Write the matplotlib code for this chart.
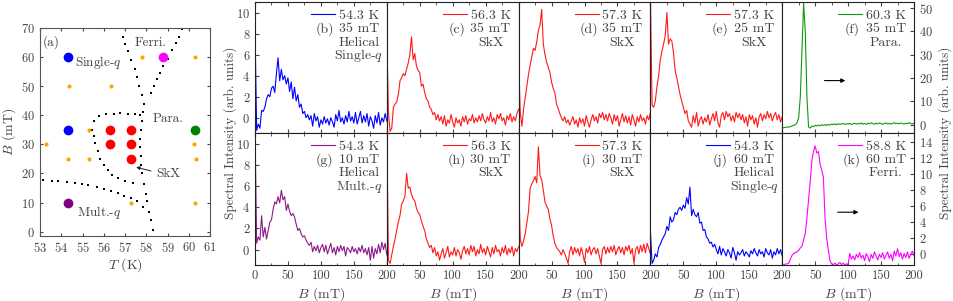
import numpy as np
import matplotlib
matplotlib.use("Agg")
import matplotlib.pyplot as plt
from matplotlib.ticker import MultipleLocator, FixedLocator, FixedFormatter

plt.rcParams['font.family'] = 'serif'
plt.rcParams['font.serif'] = ['cmr10', 'DejaVu Serif']
plt.rcParams['mathtext.fontset'] = 'cm'
plt.rcParams['axes.formatter.use_mathtext'] = True
plt.rcParams['axes.unicode_minus'] = False

TXT = '#444444'

# ---------------- phase diagram (a) ----------------
helical_T, helical_B = [54.3, 54.3], [60, 35]
multq_T, multq_B = [54.3], [10]
skx_T, skx_B = [56.3, 56.3, 57.3, 57.3, 57.3], [35, 30, 35, 30, 25]
ferri_T, ferri_B = [58.8], [60]
para_T, para_B = [60.3], [35]
meas_T = [54.35, 56.35, 57.8, 60.3, 55.3, 53.3, 60.25, 54.3, 55.3, 60.35, 57.3, 60.3]
meas_B = [50, 50, 60, 60, 35, 30, 30, 25, 25, 25, 10, 10]

# phase boundaries (dotted)
bnd1_T = [56.75, 56.9, 57.0, 57.15, 57.3, 57.45, 57.55, 57.65, 57.8, 57.9, 57.85, 57.8,
          57.75, 57.7, 57.7, 57.75, 57.75, 57.8, 57.9, 57.98, 58.04, 58.12, 58.23, 58.32]
bnd1_B = [70, 67, 64.5, 62, 59, 56, 53, 50, 47, 44, 41, 38,
          35, 32, 29, 26, 23, 20, 16.5, 12.9, 10.4, 6.9, 4.0, 0.6]
bnd2_T = [59.7, 59.55, 59.4, 59.2, 59.0, 58.8, 58.65, 58.5, 58.35, 58.2]
bnd2_B = [69.7, 67, 64.7, 62.3, 59.5, 57, 54.7, 52.4, 50, 47.8]
bnd3_T = [57.72, 57.49, 57.14, 56.78, 56.46, 56.12, 55.79, 55.52, 55.44, 55.52,
          55.6, 55.71, 55.83, 55.99, 56.18, 56.39, 56.65, 57.02, 57.38]
bnd3_B = [40.0, 40.3, 40.6, 40.9, 40.6, 40.3, 39.7, 37.9, 35.0, 32.8,
          30.5, 27.6, 25.0, 23.0, 21.3, 19.6, 18.4, 17.3, 16.7]
bnd4_T = [53.16, 53.55, 53.87, 54.26, 54.65, 54.97, 55.28, 55.68, 55.99, 56.34,
          56.65, 56.97, 57.28, 57.57, 57.83]
bnd4_B = [17.8, 17.5, 17.3, 17.0, 16.7, 16.3, 16.1, 15.2, 14.6, 13.8,
          13.2, 12.4, 11.6, 10.4, 8.6]

# ---------------- spectra ----------------
field_mt = np.arange(0, 200.1, 2.5)

spec_b = [8.5, -1.2, -0.6, -1.0, 0.7, 0.6, 1.0, 1.8, 2.2, 2.0,
          2.8, 3.0, 2.4, 4.2, 5.7, 3.5, 4.6, 3.6, 4.0, 3.2,
          3.8, 2.5, 3.4, 1.8, 2.9, 1.6, 2.2, 1.0, 1.3, 0.4,
          0.6, 0.0, 0.3, -0.2, 0.2, -0.8, 0.4, -0.3, 0.1, -0.9,
          -0.2, -0.6, 0.1, -0.5, -0.1, -0.7, 0.0, -0.4, -0.9, 0.3,
          -0.3, 0.7, -0.4, 0.0, -0.6, 0.2, -0.4, 0.6, -0.3, 0.1,
          -0.5, 0.5, -0.6, 0.0, 0.6, -0.5, 0.2, -0.4, 0.4, -0.8,
          0.1, -0.3, -1.0, 0.2, -0.5, 0.5, -0.7, 0.0, -0.4, 0.4,
          -0.3]
spec_c = [8.0, 0.5, -1.3, -1.0, 1.0, 1.3, 1.5, 2.2, 3.5, 3.8,
          4.2, 4.0, 4.6, 5.2, 6.0, 7.7, 5.5, 6.1, 4.9, 4.5,
          4.3, 3.0, 3.2, 2.4, 1.8, 1.6, 1.0, 0.8, 0.3, 0.5,
          -0.2, 0.3, -0.3, 0.1, -0.6, 0.2, -0.8, -0.2, -0.5, 0.3,
          -0.4, -0.9, 0.0, -0.5, -0.2, -0.8, 0.1, -0.4, 0.2, -0.6,
          -0.1, -0.3, 0.3, -0.5, 0.0, -0.4, 0.2, -0.3, 0.4, -0.2,
          -0.5, 0.1, -0.3, 0.5, -0.4, 0.0, -0.6, 0.3, -0.1, 0.4,
          -0.3, 0.0, -0.7, 0.2, -0.2, 0.4, -0.4, 0.1, -0.3, 0.4,
          0.8]
spec_d = [5.9, 0.5, -0.8, 0.8, 1.9, 3.0, 4.1, 5.0, 5.8, 6.6,
          6.4, 7.2, 8.3, 8.8, 10.3, 7.0, 6.0, 5.3, 4.8, 4.3,
          3.4, 2.8, 2.4, 1.3, 0.9, 0.4, 0.0, -0.3, 0.1, -0.5,
          -0.2, -0.7, -0.3, 0.1, -0.6, -0.2, -0.9, 0.0, -0.5, -0.1,
          -0.8, 0.2, -0.4, -0.9, -0.2, 0.3, -0.3, 0.1, -0.5, 0.4,
          0.0, 0.5, -0.2, 0.3, -0.3, 0.4, 0.0, -0.6, 0.3, -0.3,
          0.2, -0.8, -0.2, 0.4, -0.4, 0.2, -0.5, 0.1, -0.7, 0.3,
          -0.2, -0.8, 0.1, -0.4, 0.3, -0.3, 0.0, -0.6, 0.2, -0.2,
          0.5]
spec_e = [12.0, 1.2, 1.0, 1.6, 3.0, 4.0, 5.5, 6.3, 7.0, 7.8,
          10.0, 7.0, 7.5, 7.3, 6.2, 4.5, 3.8, 3.0, 2.2, 1.6,
          1.0, 0.4, 0.7, -0.3, -0.6, -0.9, 0.2, -0.5, 0.5, -0.8,
          -0.2, 0.1, -0.6, 0.0, -0.4, 0.3, -0.7, -0.1, 0.4, -0.3,
          0.6, -0.5, -0.9, 0.2, 0.5, -0.2, 0.6, 0.1, 0.4, -0.3,
          0.2, -0.4, 0.5, 0.0, 0.4, -0.2, 0.3, -0.5, 0.1, -0.8,
          0.3, -0.2, 0.2, -0.6, 0.0, -0.9, 0.1, 0.4, -0.3, 0.3,
          -0.1, 0.6, 0.0, 0.4, -0.3, 0.2, 0.5, -0.2, 0.3, -0.4,
          0.1]
spec_f = [-1.5, -1.3, -1.2, -1.0, -1.1, -0.8, -0.6, -0.3, 0.0, 0.8,
          3.0, 12.0, 32.0, 52.0, 40.0, 12.0, -1.0, -1.5, -0.6, -0.9,
          -0.3, -0.6, -0.2, -0.5, -0.1, -0.3, 0.0, -0.4, 0.1, -0.2,
          0.2, 0.0, 0.3, -0.1, 0.4, 0.1, 0.3, 0.5, 0.1, 0.4,
          0.2, 0.5, 0.0, 0.4, 0.6, 0.2, 0.5, 0.3, 0.7, 0.2,
          0.5, 0.1, 0.6, 0.3, 0.8, 0.4, 0.2, 0.6, 0.3, 0.7,
          0.4, 0.1, 0.5, 0.7, 0.3, 0.6, 0.2, 0.5, 0.8, 0.4,
          0.6, 0.3, 0.7, 0.5, 0.2, 0.6, 0.4, 0.8, 0.5, 0.3,
          0.6]
spec_g = [11.5, 0.6, 1.2, 0.9, 3.2, 1.2, 2.1, 1.0, 1.8, 2.6,
          2.8, 3.8, 4.5, 4.3, 5.0, 4.4, 5.6, 4.7, 5.0, 3.7,
          4.3, 3.6, 3.2, 3.4, 3.1, 2.4, 1.8, 2.0, 1.5, 1.2,
          1.3, 0.9, 0.6, 0.4, 0.7, -0.2, 0.3, -0.1, 0.4, -0.3,
          0.2, 0.5, -0.2, 0.4, -0.4, 0.1, 0.6, -0.3, 0.2, -0.5,
          0.3, -0.2, 0.4, -0.1, 0.3, -0.6, 0.2, 0.0, -0.3, 0.3,
          -0.2, 0.1, -0.4, 0.2, -0.2, 0.4, -0.3, 0.1, -0.5, 0.2,
          -1.0, 0.3, -0.8, 0.1, -0.4, 0.5, -0.3, 0.7, 0.0, 0.6,
          -0.5]
spec_h = [11.5, -1.0, -1.3, -0.5, 0.3, 1.0, 1.8, 2.6, 3.2, 4.3,
          4.6, 5.0, 7.2, 5.8, 5.9, 5.2, 4.8, 4.6, 3.9, 3.5,
          3.3, 2.7, 2.2, 1.8, 1.0, 0.6, 0.2, 0.4, -0.3, 0.2,
          -0.6, -0.2, -1.0, -0.4, 0.1, -0.8, -0.3, 0.3, -0.7, -0.2,
          -0.5, 0.2, -0.6, 0.0, -0.3, -0.9, -0.1, 0.3, -0.4, 0.1,
          -0.5, 0.4, -0.2, 0.3, -0.6, 0.0, -0.4, 0.5, -0.3, 0.1,
          -0.5, 0.3, -0.2, -0.7, 0.2, -0.4, 0.4, -0.2, 0.0, -0.6,
          0.2, -0.3, 0.4, -0.5, 0.1, -0.3, 0.3, -0.6, 0.1, -0.2,
          0.3]
spec_i = [6.5, 1.0, 0.3, 0.8, 1.5, 2.5, 3.6, 5.8, 6.2, 6.5,
          6.9, 6.3, 9.7, 7.0, 6.6, 5.6, 4.5, 4.1, 3.8, 2.9,
          2.3, 1.3, 0.6, 0.2, 0.0, -0.2, -0.5, 0.0, -0.4, -0.8,
          -1.3, -0.2, 0.3, -0.5, 0.2, -0.3, 0.1, -0.6, 0.2, -0.4,
          -1.2, 0.1, -0.3, 0.3, -0.5, 0.0, 0.2, -0.4, 0.1, -0.6,
          -1.3, 0.0, 0.3, -0.4, 0.2, -0.3, 0.3, -0.2, 0.4, -0.5,
          0.0, 0.3, -0.3, 0.2, -0.5, 0.3, -0.1, 0.4, -0.4, 0.1,
          -1.3, 0.0, 0.3, -0.4, 0.4, -0.2, 0.5, -0.3, 0.6, 0.1,
          -0.4]
spec_j = [1.8, -1.3, -1.0, -0.4, -0.7, 0.2, 0.5, 0.9, 1.2, 1.5,
          2.2, 1.8, 3.1, 2.6, 2.8, 3.5, 3.3, 3.8, 4.0, 3.7,
          4.2, 3.9, 4.9, 4.3, 5.9, 3.2, 3.8, 3.3, 3.1, 3.5,
          2.5, 2.6, 1.8, 1.9, 1.2, 1.0, 0.6, 0.7, 0.25, 0.5,
          0.0, -0.4, 0.3, -0.5, 0.1, -0.2, -0.6, 0.0, -0.3, -0.8,
          0.2, -0.3, -1.0, -0.2, -0.5, -0.3, 0.0, -0.6, -0.2, -0.4,
          -0.7, -0.1, -0.4, 0.1, -0.3, -0.6, 0.0, -0.4, -0.2, -0.7,
          0.1, -0.3, -0.5, 0.0, -0.8, -0.2, -0.5, 0.1, -0.4, 0.0,
          -0.6]
spec_k = [-1.3, -1.3, -1.2, -1.2, -1.1, -0.6, -0.1, 0.1, 0.2, 0.3,
          0.5, 0.8, 1.0, 1.8, 2.6, 4.5, 6.8, 9.0, 11.7, 12.8,
          13.5, 12.6, 12.8, 11.2, 10.5, 9.6, 4.5, 2.0, 0.5, -0.8,
          -1.2, -1.3, -1.1, -1.3, -1.2, -1.0, -1.3, -1.1, -1.3, -1.2,
          -1.3, 0.1, -0.6, -0.2, -0.7, 0.0, -0.4, 0.2, -0.5, -0.1,
          -0.8, 0.1, -0.3, -0.9, 0.0, -0.5, 0.3, -0.2, -0.7, 0.0,
          -0.4, 0.2, -0.6, -0.1, 0.3, -0.5, 0.0, -0.8, 0.4, -0.2,
          0.7, -0.3, 0.2, -0.6, 0.1, -0.4, 0.3, -0.5, 0.0, 0.4,
          -0.2]

panel_temps = ['54.3 K', '56.3 K', '57.3 K', '57.3 K', '60.3 K',
               '54.3 K', '56.3 K', '57.3 K', '54.3 K', '58.8 K']
panel_tags = ['(b)', '(c)', '(d)', '(e)', '(f)', '(g)', '(h)', '(i)', '(j)', '(k)']
panel_notes = [['35 mT', 'Helical', 'Single-$q$'], ['35 mT', 'SkX'], ['35 mT', 'SkX'],
               ['25 mT', 'SkX'], ['35 mT', 'Para.'], ['10 mT', 'Helical', 'Mult.-$q$'],
               ['30 mT', 'SkX'], ['30 mT', 'SkX'], ['60 mT', 'Helical', 'Single-$q$'],
               ['60 mT', 'Ferri.']]
panel_colors = ['#0000ff', '#ff1a1a', '#ff1a1a', '#ff1a1a', '#119911',
                '#8b1a8b', '#ff1a1a', '#ff1a1a', '#0000ff', '#ff00ff']
spectra = [spec_b, spec_c, spec_d, spec_e, spec_f, spec_g, spec_h, spec_i, spec_j, spec_k]
b_ticks = [0, 50, 100, 150, 200]

W, H = 954, 301
fig = plt.figure(figsize=(W / 100, H / 100), dpi=100)


def px_axes(x0, y_top, w, h):
    return fig.add_axes([x0 / W, (H - y_top - h) / H, w / W, h / H])


# ---- (a) ----
ax = px_axes(40, 28, 170, 208)
for T, B in [(bnd1_T, bnd1_B), (bnd2_T, bnd2_B), (bnd3_T, bnd3_B), (bnd4_T, bnd4_B)]:
    ax.plot(T, B, ls='none', marker='s', ms=1.9, color='black', mew=0)
ax.plot(meas_T, meas_B, 'o', color='#ffa500', ms=3.0, mew=0)
ax.plot(helical_T, helical_B, 'o', color='#0000ff', ms=7, mew=0)
ax.plot(multq_T, multq_B, 'o', color='#800080', ms=7, mew=0)
ax.plot(skx_T, skx_B, 'o', color='#ff0000', ms=7, mew=0)
ax.plot(ferri_T, ferri_B, 'o', color='#ff00ff', ms=7, mew=0)
ax.plot(para_T, para_B, 'o', color='#008000', ms=7, mew=0)
ax.set_xlim(53, 61)
ax.set_ylim(-1.5, 70)
ax.xaxis.set_major_locator(MultipleLocator(1))
ax.yaxis.set_major_locator(MultipleLocator(10))
ax.tick_params(direction='in', top=True, right=True, labelsize=9, colors=TXT, length=2.5)
for s in ax.spines.values():
    s.set_color('#555555')
ax.set_xlabel('$T$ (K)', fontsize=10, color=TXT, labelpad=1)
ax.set_ylabel('$B$ (mT)', fontsize=10, color=TXT, labelpad=2)
lab = dict(fontsize=9.5, color=TXT, va='center')
ax.text(53.15, 65, '(a)', ha='left', **lab)
ax.text(54.65, 58, 'Single-$q$', ha='left', **lab)
ax.text(57.45, 65, 'Ferri.', ha='left', **lab)
ax.text(58.3, 38.8, 'Para.', ha='left', **lab)
ax.text(58.45, 20, 'SkX', ha='left', **lab)
ax.text(54.75, 6.7, 'Mult.-$q$', ha='left', **lab)
ax.annotate('', xy=(57.4, 22.4), xytext=(58.35, 20.6),
            arrowprops=dict(arrowstyle='-|>', color='#222222', lw=0.7, mutation_scale=5))

# ---- spectra panels ----
col_w = 131.8
for n in range(10):
    row, col = divmod(n, 5)
    y_top = 2 if row == 0 else 133
    h = 131 if row == 0 else 132
    sax = px_axes(255 + col * col_w, y_top, col_w, h)
    c = panel_colors[n]
    line, = sax.plot(field_mt, spectra[n], color=c, lw=0.8)
    sax.set_xlim(0, 200)
    if col == 4:
        sax.set_ylim(-3.6, 52.6) if row == 0 else sax.set_ylim(-1.33, 15.1)
        sax.yaxis.set_major_locator(MultipleLocator(10 if row == 0 else 2))
        sax.yaxis.tick_right()
        sax.tick_params(axis='y', which='both', left=False, right=True, labelright=True)
        sax.annotate('', xy=(0.50 if row == 0 else 0.60, 0.40),
                     xytext=(0.30 if row == 0 else 0.40, 0.40), xycoords='axes fraction',
                     arrowprops=dict(arrowstyle='-|>', color='black', lw=0.8, mutation_scale=6))
    else:
        sax.set_ylim(-1.45, 11.0)
        sax.yaxis.set_major_locator(MultipleLocator(2))
        if col > 0:
            sax.tick_params(axis='y', which='both', left=False, labelleft=False)
    sax.xaxis.set_major_locator(FixedLocator(b_ticks))
    # the "0" of each later panel sits under the "200" of its neighbour
    sax.xaxis.set_major_formatter(FixedFormatter(
        [('' if (v == 0 and col > 0) else str(v)) for v in b_ticks]))
    sax.xaxis.set_minor_locator(MultipleLocator(25))
    sax.tick_params(which='major', direction='in', length=3, labelsize=9, colors=TXT)
    sax.tick_params(axis='x', which='both', direction='in', top=True, bottom=True)
    sax.tick_params(which='minor', direction='in', length=1.8, colors=TXT)
    if row == 0:
        sax.tick_params(axis='x', labelbottom=False)
    else:
        sax.set_xlabel('$B$ (mT)', fontsize=10, color=TXT, labelpad=2)
    for s in sax.spines.values():
        s.set_color('#222222')
        s.set_linewidth(0.8)
    sax.legend([line], [panel_temps[n]], loc='upper right', bbox_to_anchor=(0.962, 0.968),
               frameon=False, fontsize=10, handlelength=1.73, handletextpad=0.27,
               borderaxespad=0, borderpad=0.2, labelcolor=TXT)
    for k, txt in enumerate(panel_notes[n]):
        sax.text(0.787, 1 - (30.2 + 13.3 * k) / h, txt, transform=sax.transAxes,
                 ha='center', va='baseline', fontsize=10, color=TXT)
    sax.text(0.53, 1 - 30.2 / h, panel_tags[n], transform=sax.transAxes,
             ha='center', va='baseline', fontsize=10, color=TXT)

fig.text(230 / W, (H - 133) / H, 'Spectral Intensity (arb. units)', rotation=90,
         ha='center', va='center', fontsize=9.5, color=TXT)
fig.text(945 / W, (H - 133) / H, 'Spectral Intensity (arb. units)', rotation=90,
         ha='center', va='center', fontsize=9.5, color=TXT)

fig.savefig('out.png', dpi=100)
